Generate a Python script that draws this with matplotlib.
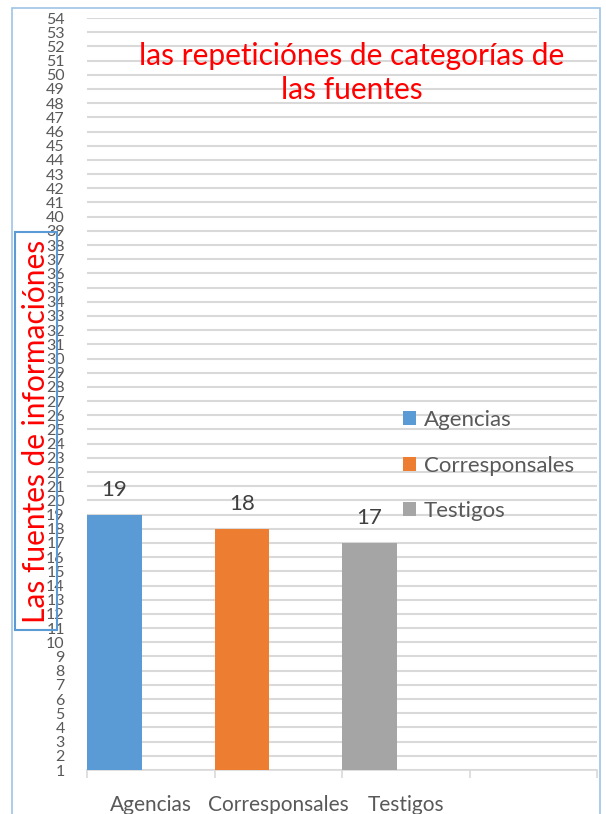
import matplotlib
matplotlib.use("Agg")
import matplotlib.pyplot as plt
from matplotlib.patches import Rectangle

categories = ["Agencias", "Corresponsales", "Testigos", ""]
series_names = ["Agencias", "Corresponsales", "Testigos"]
values = [19, 18, 17]
colors = ["#5B9BD5", "#ED7D31", "#A5A5A5"]
yticks = list(range(1, 55))
title = "las repeticiónes de categorías de\nlas fuentes"
ylabel = "Las fuentes de informaciónes"

plt.rcParams['font.family'] = ['Lato', 'DejaVu Sans']

fig = plt.figure(figsize=(6.06, 8.14), dpi=100)
ax = fig.add_axes([87/606, 1-770/814, (597-87)/606, (770-18)/814])

for i, (name, v, c) in enumerate(zip(series_names, values, colors)):
    ax.bar(i, v, width=0.43, align='edge', color=c, label=name, zorder=3)
    ax.text(i + 0.215, v + 1.75, str(v), ha='center', va='center',
            fontsize=16, color='#404040')

ax.set_xlim(0, 4)
ax.set_ylim(1, 54)
ax.set_yticks(yticks)
ax.set_yticklabels([str(t) for t in yticks])
ax.tick_params(axis='y', length=0, labelsize=11.5, labelcolor='#595959', pad=16)
ax.yaxis.grid(True, color='#D9D9D9', linewidth=1.5, zorder=0)
ax.set_axisbelow(True)

ax.set_xticks([0, 1, 2, 3, 4])
ax.set_xticklabels([])
ax.set_xticks([0.5, 1.5, 2.5, 3.5], minor=True)
ax.set_xticklabels(categories, minor=True)
ax.tick_params(axis='x', which='major', length=6, color='#D9D9D9', width=1.2, direction='out')
ax.tick_params(axis='x', which='minor', length=0, labelsize=15, labelcolor='#595959', pad=18)

for s in ['left', 'right', 'top']:
    ax.spines[s].set_visible(False)
ax.spines['bottom'].set_color('#D9D9D9')
ax.spines['bottom'].set_linewidth(1.2)

fig.text(352/606, 1-73/814, title, ha='center', va='center', color='red',
         fontsize=21.5, linespacing=1.25)

fig.text(36/606, 1-431/814, ylabel, rotation=90, ha='center', va='center',
         color='red', fontsize=21.5,
         bbox=dict(boxstyle='square,pad=0.25', facecolor='none', edgecolor='#5B9BD5', linewidth=1.5))

leg = ax.legend(loc='upper left', frameon=False,
                fontsize=16, labelcolor='#595959', handlelength=0.6, handleheight=0.6,
                handletextpad=0.35, labelspacing=1.15, borderaxespad=0, borderpad=0)
leg.set_bbox_to_anchor((403/606, 1-410/814), transform=fig.transFigure)

fig.add_artist(Rectangle((12/606, -0.01), (600-12)/606, 1-8/814 + 0.01,
                         transform=fig.transFigure, fill=False,
                         edgecolor='#9DC3E6', linewidth=1.2))

fig.savefig("out.png", dpi=100)
